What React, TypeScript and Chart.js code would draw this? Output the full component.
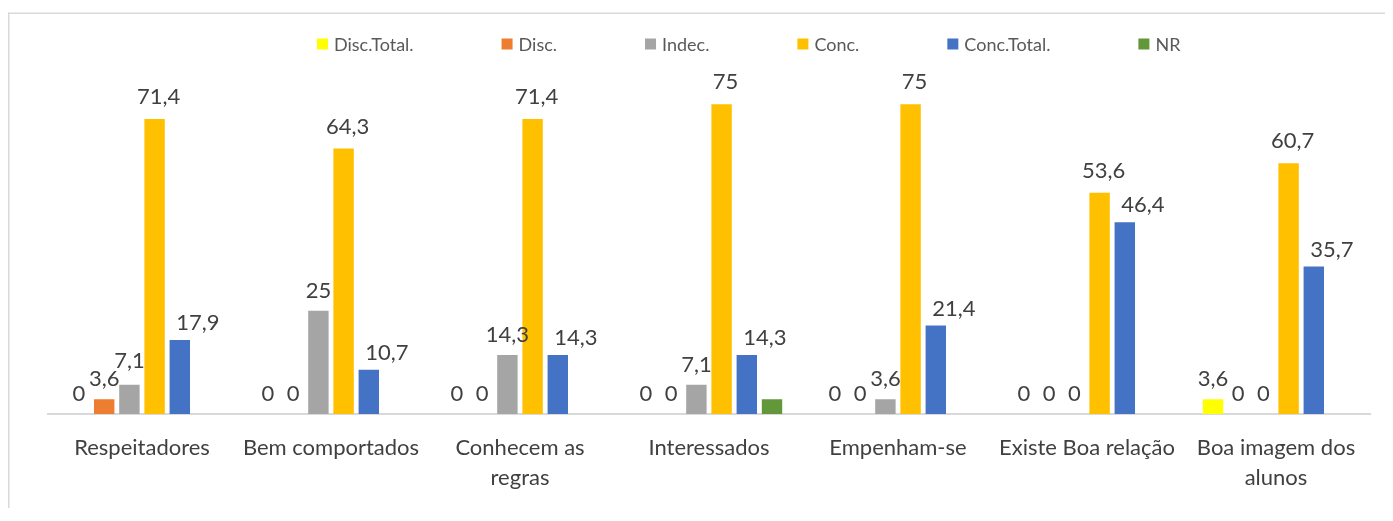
import React, { useEffect, useRef } from 'react';
import { Chart, registerables } from 'chart.js';

Chart.register(...registerables);

// ---- data ----
const categories: string[][] = [
  ['Respeitadores'],
  ['Bem comportados'],
  ['Conhecem as', 'regras'],
  ['Interessados'],
  ['Empenham-se'],
  ['Existe Boa relação'],
  ['Boa imagem dos', 'alunos'],
];
const seriesNames = ['Disc.Total.', 'Disc.', 'Indec.', 'Conc.', 'Conc.Total.', 'NR'];
const discTotal = [0, 0, 0, 0, 0, 0, 3.6];
const disc = [3.6, 0, 0, 0, 0, 0, 0];
const indec = [7.1, 25, 14.3, 7.1, 3.6, 0, 0];
const conc = [71.4, 64.3, 71.4, 75, 75, 53.6, 60.7];
const concTotal = [17.9, 10.7, 14.3, 14.3, 21.4, 46.4, 35.7];
const nr: (number | null)[] = [null, null, null, 3.6, null, null, null];
const yMin = 0;
const yMax = 80;

// ---- style ----
const seriesColors = ['#FFFF00', '#ED7D31', '#A5A5A5', '#FFC000', '#4472C4', '#62983A'];
const labelledSeries = [true, true, true, true, true, false];
const labelShiftX = [0, 0, 0, 4, 18, 0];
const labelLift = [20, 20, 20, 22, 17, 20];
const FONT = 'Lato, "Open Sans", sans-serif';

const fmt = (v: number) => String(v).replace('.', ',');

const framePlugin = {
  id: 'frame',
  beforeDraw(chart: any) {
    const { ctx, width, height } = chart;
    ctx.save();
    ctx.fillStyle = '#ffffff';
    ctx.fillRect(0, 0, width, height);
    ctx.fillStyle = '#d9d9d9';
    ctx.fillRect(0, 4.5, width, 1.5);
    ctx.fillRect(0, 4.5, 1.5, height);
    ctx.restore();
  },
};

const labelPlugin = {
  id: 'barLabels',
  afterDatasetsDraw(chart: any) {
    const { ctx } = chart;
    ctx.save();
    ctx.font = `22px ${FONT}`;
    ctx.fillStyle = '#404040';
    ctx.textAlign = 'center';
    ctx.textBaseline = 'middle';
    const placed: { [k: number]: { x: number; y: number; w: number }[] } = {};
    chart.data.datasets.forEach((ds: any, di: number) => {
      if (!labelledSeries[di]) return;
      const meta = chart.getDatasetMeta(di);
      meta.data.forEach((bar: any, i: number) => {
        const v = ds.data[i];
        if (v === null || v === undefined) return;
        const text = fmt(v);
        const w = ctx.measureText(text).width;
        const x = bar.x + labelShiftX[di];
        let y = bar.y - labelLift[di];
        const list = placed[i] || (placed[i] = []);
        let moved = true;
        let guard = 0;
        while (moved && guard < 10) {
          moved = false;
          guard++;
          for (const p of list) {
            if (Math.abs(p.x - x) < (p.w + w) / 2 + 1 && Math.abs(p.y - y) < 18) {
              y = p.y - 18;
              moved = true;
            }
          }
        }
        list.push({ x, y, w });
        ctx.fillText(text, x, y);
      });
    });
    ctx.restore();
  },
};

const legendPlugin = {
  id: 'customLegend',
  afterDraw(chart: any) {
    const { ctx } = chart;
    ctx.save();
    ctx.font = `18px ${FONT}`;
    ctx.textBaseline = 'middle';
    ctx.textAlign = 'left';
    let x = 309;
    const yc = 36;
    const box = 11;
    const gap = 6;
    const pad = 88;
    chart.data.datasets.forEach((ds: any) => {
      ctx.fillStyle = ds.backgroundColor;
      ctx.fillRect(x, yc - box / 2, box, box);
      ctx.fillStyle = '#595959';
      ctx.fillText(ds.label, x + box + gap, yc + 1);
      x += box + gap + ctx.measureText(ds.label).width + pad;
    });
    ctx.restore();
  },
};

export default function App() {
  const ref = useRef<HTMLCanvasElement | null>(null);
  useEffect(() => {
    if (!ref.current) return;
    const values = [discTotal, disc, indec, conc, concTotal, nr];
    const chart = new Chart(ref.current, {
      type: 'bar',
      data: {
        labels: categories,
        datasets: values.map((d, i) => ({
          label: seriesNames[i],
          data: d,
          backgroundColor: seriesColors[i],
          borderWidth: 0,
          categoryPercentage: 0.8,
          barPercentage: 0.81,
        })),
      },
      options: {
        animation: false,
        responsive: true,
        maintainAspectRatio: false,
        layout: { padding: { left: 39.5, right: 22.5, top: 75.6, bottom: 0 } },
        plugins: {
          legend: { display: false },
          tooltip: { enabled: false },
          title: { display: false },
        },
        scales: {
          x: {
            grid: { display: false, drawTicks: false },
            border: { display: true, color: '#d9d9d9', width: 2 },
            ticks: {
              color: '#404040',
              font: { family: FONT, size: 22, lineHeight: 1.36 },
              padding: 19,
              maxRotation: 0,
              autoSkip: false,
            },
            afterFit: (scale: any) => {
              scale.height = 94;
            },
          },
          y: {
            display: false,
            min: yMin,
            max: yMax,
          },
        },
      },
      plugins: [framePlugin, labelPlugin, legendPlugin],
    });
    return () => chart.destroy();
  }, []);
  return (
    <div style={{ width: 1385, height: 500, position: 'relative' }}>
      <canvas ref={ref} />
    </div>
  );
}
